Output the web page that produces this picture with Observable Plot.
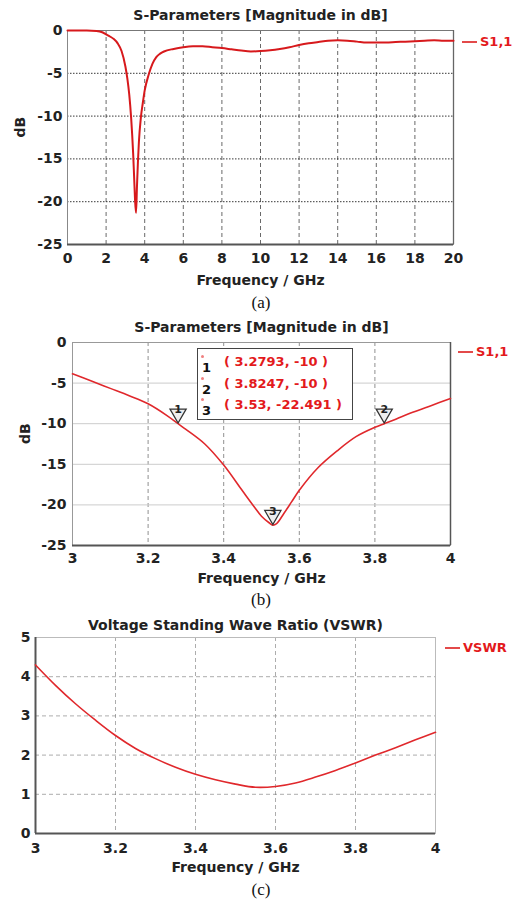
<!DOCTYPE html>
<html><head><meta charset="utf-8">
<script src="https://cdn.jsdelivr.net/npm/d3@7"></script>
<script src="https://cdn.jsdelivr.net/npm/@observablehq/plot@0.6"></script>
<style>
html,body{margin:0;padding:0;background:#fff;}
#root{position:relative;width:522px;height:901px;overflow:hidden;font-family:"DejaVu Sans",sans-serif;background:#fff;}
.panel{position:absolute;left:0;}
.cap{position:absolute;left:0;width:522px;text-align:center;font-family:"Liberation Serif","Times New Roman",serif;font-size:17px;color:#111;line-height:20px;}
.leg{position:absolute;font-weight:bold;font-size:13px;color:#e31a1c;line-height:16px;white-space:nowrap;}
.leg .ln{display:inline-block;width:15px;height:2px;background:#e34a4a;vertical-align:middle;margin-right:3px;position:relative;top:-1px;}
.box{position:absolute;background:#fff;border:1px solid #444;box-sizing:border-box;}
.row{position:absolute;left:0;height:18px;width:100%;}
.row .dot{position:absolute;left:3px;top:1px;width:3px;height:3px;background:#f08080;border-radius:50%;}
.row .num{position:absolute;left:4px;top:6px;font-size:13px;font-weight:bold;color:#111;}
.row .txt{position:absolute;left:26px;top:0;font-size:13px;font-weight:bold;color:#e31a1c;white-space:pre;}
</style></head>
<body><div id="root"></div>
<script>
// ---------- Panel (a): S11 0–20 GHz ----------
const freqA = [0, 0.5, 1, 1.5, 1.8, 2, 2.2, 2.4, 2.6, 2.8, 3.0, 3.1, 3.2, 3.3, 3.4, 3.45, 3.5, 3.55, 3.6, 3.65, 3.7, 3.8, 3.9, 4.0, 4.2, 4.4, 4.6, 4.8, 5.0, 5.5, 6, 6.5, 7, 7.5, 8, 8.5, 9, 9.5, 10, 10.5, 11, 11.5, 12, 12.5, 13, 13.5, 14, 14.5, 15, 15.5, 16, 16.5, 17, 17.5, 18, 18.5, 19, 19.5, 20];
const s11A = [0, 0, 0, -0.05, -0.2, -0.45, -0.7, -1.0, -1.5, -2.4, -4.2, -5.6, -7.5, -10.3, -14.3, -17, -19.8, -21.3, -18.2, -15.3, -13.0, -10.2, -8.5, -7.0, -5.2, -3.9, -3.1, -2.7, -2.45, -2.15, -1.95, -1.85, -1.85, -1.95, -2.05, -2.2, -2.35, -2.45, -2.4, -2.3, -2.15, -1.95, -1.7, -1.5, -1.35, -1.2, -1.15, -1.2, -1.3, -1.4, -1.4, -1.4, -1.35, -1.3, -1.25, -1.2, -1.15, -1.2, -1.2];
const xTicksA = [0, 2, 4, 6, 8, 10, 12, 14, 16, 18, 20];
const yTicksDB = [0, -5, -10, -15, -20, -25];

// ---------- Panel (b): S11 3–4 GHz ----------
const freqB = [3.0, 3.05, 3.1, 3.15, 3.2, 3.25, 3.2793, 3.3, 3.35, 3.4, 3.45, 3.48, 3.5, 3.52, 3.53, 3.54, 3.56, 3.58, 3.6, 3.65, 3.7, 3.75, 3.8, 3.8247, 3.85, 3.9, 3.95, 4.0];
const s11B = [-3.86, -4.75, -5.65, -6.55, -7.55, -9.0, -10, -10.7, -12.5, -15.1, -18.3, -20.2, -21.4, -22.2, -22.491, -22.3, -21.0, -19.6, -18.2, -15.4, -13.35, -11.6, -10.45, -10, -9.55, -8.6, -7.75, -6.9];
const xTicksB = [3, 3.2, 3.4, 3.6, 3.8, 4];
const markerFreq = [3.2793, 3.8247, 3.53];
const markerVal = [-10, -10, -22.491];
const markerLabel = ["1", "2", "3"];

// ---------- Panel (c): VSWR 3–4 GHz ----------
const freqC = [3.0, 3.05, 3.1, 3.15, 3.2, 3.25, 3.3, 3.35, 3.4, 3.45, 3.5, 3.55, 3.6, 3.65, 3.7, 3.75, 3.8, 3.85, 3.9, 3.95, 4.0];
const vswrC = [4.30, 3.78, 3.31, 2.89, 2.50, 2.17, 1.91, 1.69, 1.51, 1.37, 1.26, 1.18, 1.20, 1.29, 1.44, 1.61, 1.80, 2.00, 2.19, 2.39, 2.58];
const yTicksC = [0, 1, 2, 3, 4, 5];

const titleS = "S-Parameters [Magnitude in dB]";
const titleV = "Voltage Standing Wave Ratio (VSWR)";
const xLabel = "Frequency / GHz";
const yLabel = "dB";

const dataA = freqA.map((f, i) => ({f, v: s11A[i]}));
const dataB = freqB.map((f, i) => ({f, v: s11B[i]}));
const dataC = freqC.map((f, i) => ({f, v: vswrC[i]}));
const markers = markerFreq.map((f, i) => ({f, v: markerVal[i], n: markerLabel[i]}));

const root = document.getElementById("root");
const fmt = d => String(d);
const baseStyle = {fontFamily: "DejaVu Sans, sans-serif", fontSize: "14px", fontWeight: "bold", color: "#222", background: "transparent", overflow: "visible"};

function place(el, top) { el.classList.add("panel"); el.style.top = top + "px"; root.appendChild(el); }
function addCap(txt, top) { const d = document.createElement("div"); d.className = "cap"; d.style.top = top + "px"; d.textContent = txt; root.appendChild(d); }
function addLeg(txt, left, top) { const d = document.createElement("div"); d.className = "leg"; d.style.left = left + "px"; d.style.top = top + "px"; d.innerHTML = '<span class="ln"></span>' + txt; root.appendChild(d); }

// Panel (a)
const plotA = Plot.plot({
  width: 522, height: 292, marginTop: 30, marginBottom: 48, marginLeft: 67, marginRight: 69,
  style: baseStyle,
  x: {domain: [0, 20]}, y: {domain: [-25, 0]},
  marks: [
    Plot.gridX(xTicksA.slice(1, -1), {stroke: "#444", strokeOpacity: 0.8, strokeDasharray: "4,3"}),
    Plot.gridY(yTicksDB.slice(1, -1), {stroke: "#222", strokeOpacity: 0.9, strokeDasharray: "1.5,1.5"}),
    Plot.frame({stroke: "#888"}),
    Plot.ruleY([-25], {stroke: "#555", strokeWidth: 2}),
    Plot.ruleY([0], {stroke: "#777", strokeWidth: 1.2}),
    Plot.ruleX([20], {stroke: "#666", strokeWidth: 1.3}),
    Plot.axisX(xTicksA, {tickSize: 0, tickPadding: 9, tickFormat: fmt, label: null, fontSize: 14}),
    Plot.axisY(yTicksDB, {tickSize: 0, tickPadding: 5, tickFormat: fmt, label: null, fontSize: 14}),
    Plot.line(dataA, {x: "f", y: "v", stroke: "#d7191c", strokeWidth: 2, curve: "monotone-x"}),
    Plot.text([titleS], {text: d => d, frameAnchor: "top", dy: -15, lineAnchor: "middle", fontSize: 14, fontWeight: "bold"}),
    Plot.text([xLabel], {text: d => d, frameAnchor: "bottom", dy: 36, lineAnchor: "middle", fontSize: 14, fontWeight: "bold"}),
    Plot.text([yLabel], {text: d => d, frameAnchor: "left", dx: -47, rotate: -90, lineAnchor: "middle", fontSize: 14, fontWeight: "bold"})
  ]
});
place(plotA, 0);
addLeg("S1,1", 462, 34);
addCap("(a)", 293);

// Panel (b)
const plotB = Plot.plot({
  width: 522, height: 280, marginTop: 32, marginBottom: 45, marginLeft: 72, marginRight: 72,
  style: baseStyle,
  x: {domain: [3, 4]}, y: {domain: [-25, 0]},
  marks: [
    Plot.gridX(xTicksB.slice(1, -1), {stroke: "#555", strokeOpacity: 0.65, strokeDasharray: "4,3"}),
    Plot.gridY(yTicksDB.slice(1, -1), {stroke: "#ccc", strokeOpacity: 1}),
    Plot.frame({stroke: "#999"}),
    Plot.ruleY([-25], {stroke: "#555", strokeWidth: 2}),
    Plot.ruleX([4], {stroke: "#555", strokeWidth: 1.5}),
    Plot.axisX(xTicksB, {tickSize: 0, tickPadding: 8, tickFormat: fmt, label: null, fontSize: 14}),
    Plot.axisY(yTicksDB, {tickSize: 0, tickPadding: 6, tickFormat: fmt, label: null, fontSize: 14}),
    Plot.line(dataB, {x: "f", y: "v", stroke: "#e0282c", strokeWidth: 1.6, curve: "catmull-rom"}),
    Plot.dot(markers, {x: "f", y: "v", symbol: "triangle", rotate: 180, r: 6, dy: -10, fill: "#ddd", fillOpacity: 0.5, stroke: "#333", strokeWidth: 1.3}),
    Plot.text(markers, {x: "f", y: "v", text: "n", dy: -14, fontSize: 11, fontWeight: "bold", fill: "#222"}),
    Plot.text([titleS], {text: d => d, frameAnchor: "top", dy: -15, lineAnchor: "middle", fontSize: 14, fontWeight: "bold"}),
    Plot.text([xLabel], {text: d => d, frameAnchor: "bottom", dy: 33, lineAnchor: "middle", fontSize: 14, fontWeight: "bold"}),
    Plot.text([yLabel], {text: d => d, frameAnchor: "left", dx: -47, rotate: -90, lineAnchor: "middle", fontSize: 14, fontWeight: "bold"})
  ]
});
place(plotB, 310);
addLeg("S1,1", 458, 344);
addCap("(b)", 590);

// Marker readout box
const box = document.createElement("div");
box.className = "box";
box.style.left = "197px"; box.style.top = "348px"; box.style.width = "156px"; box.style.height = "72px";
markers.forEach((m, i) => {
  const r = document.createElement("div");
  r.className = "row";
  r.style.top = (5 + i * 21.5) + "px";
  r.innerHTML = '<span class="dot"></span><span class="num">' + m.n + '</span><span class="txt">( ' + m.f + ', ' + m.v + ' )</span>';
  box.appendChild(r);
});
root.appendChild(box);

// Panel (c)
const plotC = Plot.plot({
  width: 522, height: 268, marginTop: 27, marginBottom: 45, marginLeft: 35, marginRight: 87,
  style: baseStyle,
  x: {domain: [3, 4]}, y: {domain: [0, 5]},
  marks: [
    Plot.gridX(xTicksB.slice(1, -1), {stroke: "#777", strokeOpacity: 0.6, strokeDasharray: "4,3"}),
    Plot.gridY(yTicksC.slice(1, -1), {stroke: "#777", strokeOpacity: 0.6, strokeDasharray: "4,3"}),
    Plot.frame({stroke: "#bbb"}),
    Plot.ruleX([3], {stroke: "#555", strokeWidth: 2}),
    Plot.ruleY([0], {stroke: "#555", strokeWidth: 2}),
    Plot.axisX(xTicksB, {tickSize: 0, tickPadding: 10, tickFormat: fmt, label: null, fontSize: 14}),
    Plot.axisY(yTicksC, {tickSize: 0, tickPadding: 5, tickFormat: fmt, label: null, fontSize: 14}),
    Plot.line(dataC, {x: "f", y: "v", stroke: "#e0282c", strokeWidth: 1.6, curve: "catmull-rom"}),
    Plot.text([titleV], {text: d => d, frameAnchor: "top", dy: -12, lineAnchor: "middle", fontSize: 14, fontWeight: "bold"}),
    Plot.text([xLabel], {text: d => d, frameAnchor: "bottom", dy: 34, lineAnchor: "middle", fontSize: 14, fontWeight: "bold"})
  ]
});
place(plotC, 610);
addLeg("VSWR", 445, 640);
addCap("(c)", 880);
</script>
</body></html>
